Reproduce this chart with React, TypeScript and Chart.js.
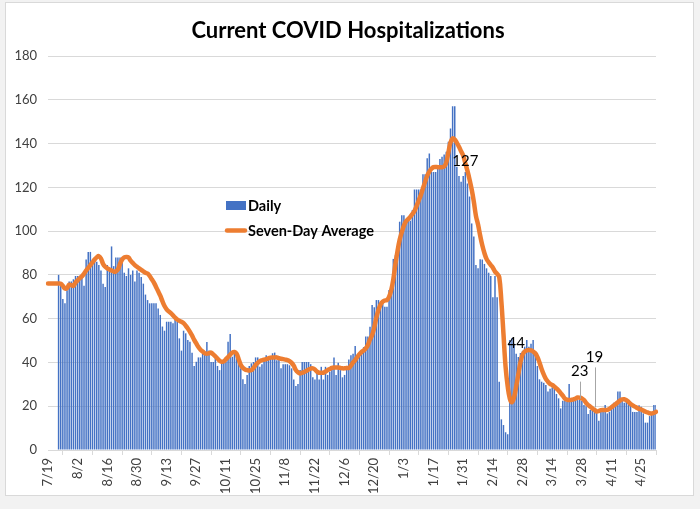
import React, { useEffect, useRef } from "react";
import { Chart, registerables } from "chart.js";

Chart.register(...registerables);

// ---- DATA ----
const startYear = 2020;
const startMonth = 7; // July
const startDay = 19;
const tickEvery = 14;

// Daily hospitalizations (one value per day from 7/19)
const daily: (number | null)[] = [
  null, null, null, null, null, 80, 75, 69, 67, 73,
  77, 77, 78, 79.5, 79.5, 79, 80, 75, 87, 90.5,
  90.5, 87, 88, 86, 84.5, 82, 76, 74.5, 84.5, 82,
  93, 84, 88, 88, 88, 87, 81, 79.5, 83, 80,
  82, 77, 82, 81, 79, 76, 71, 68.5, 67, 67,
  67, 67, 64.7, 61.7, 56.4, 54.5, 58.6, 58.6, 58.6, 57.9,
  61.2, 58.6, 51, 45.4, 54.5, 53.3, 50.2, 49.5, 44.4, 38.4,
  40.3, 42.3, 42.3, 44.2, 43.5, 49.3, 45.4, 40.2, 40.2, 42.9,
  38.4, 36.5, 39.6, 40.2, 40.2, 49.5, 53, 42.6, 44.4, 44.4,
  40.3, 37.3, 32.3, 30.1, 34.3, 38.4, 39.6, 40.2, 42.3, 42.3,
  38, 39.2, 41, 43.3, 41.9, 42.3, 44.2, 44.5, 41, 41.9,
  37.3, 39.2, 39.2, 39.2, 38.7, 37.3, 32.2, 29.2, 30.1, 36.5,
  40.2, 40.2, 40.2, 40.2, 39.2, 33.2, 32.2, 36.5, 32.2, 38,
  32.2, 38, 34.3, 35.8, 36.5, 42.3, 34.3, 39.9, 36.5, 33.2,
  34.3, 38.4, 41.4, 43.3, 44, 47.5, 43.4, 44, 45.7, 47,
  51.8, 51.8, 56.3, 66.2, 65.2, 68.5, 68.5, 67, 68.2, 65.5,
  65.5, 73.1, 73.1, 87.3, 89, 92.8, 104.3, 107.3, 107.3, 105.5,
  105.5, 104.7, 109.6, 119, 119, 119, 119, 126, 126, 133.3,
  135.5, 127, 127, 127, 130, 133, 134, 135, 136.3, 140.8,
  146.9, 157, 157, 129.4, 125.2, 122.6, 125.2, 127, 121.8, 115.8,
  103.5, 97.5, 84.5, 83, 87.1, 87, 85, 83, 81, 79.5,
  69.8, 79.5, 69.8, 31.2, 14, 11.4, 8.1, 7.2, 50.2, 51,
  48.5, 44, 42.5, 44.3, 45.3, 47.2, 50.2, 47.2, 48.5, 50.2,
  44.2, 38.4, 32.3, 31.2, 30.7, 29.7, 26.7, 28, 28.6, 28.2,
  25.6, 23.6, 19, 22.5, 22.8, 22, 30.2, 22.5, 23.6, 23.6,
  22.8, 23, 22.5, 20.6, 20, 16.4, 18.3, 18.5, 19, 18.5,
  13.4, 17.4, 17.4, 20.6, 16.7, 17.4, 20.6, 21.6, 22.1, 26.7,
  26.7, 22.5, 21.6, 23, 22.5, 22.1, 17.4, 17.4, 17.4, 20.5,
  19.8, 16.7, 12.5, 12.5, 15.5, 16.7, 20.6, 20.6,
];

// Seven-day average
const sevenDayAvg: number[] = [
  76.1, 76.1, 76.1, 76.1, 76.1, 76.1, 76, 75, 73.8, 74,
  75.5, 75.3, 75, 76.5, 77.5, 78.5, 79.3, 80.5, 82, 83.2,
  84.5, 85.7, 87, 88, 88.6, 87.5, 85, 83.7, 83, 82.5,
  82, 81.5, 81.6, 82.5, 85, 87, 88, 88.2, 88, 86.5,
  85.5, 84.5, 83.7, 83, 82.3, 81.6, 81, 80.6, 79.5, 78,
  76.5, 74.5, 72.5, 70.5, 68, 65.8, 64.3, 63.3, 62.5, 61.5,
  60.5, 59.6, 59, 58.6, 58, 56.8, 55.5, 54, 52.3, 50.3,
  48.7, 47, 45.8, 45, 44.2, 44, 44.2, 44.5, 43.7, 42.8,
  41.8, 40.8, 40.3, 40.5, 41.5, 42.5, 43.5, 44.5, 44.8, 44,
  41.5, 38.8, 37.5, 36.8, 36.5, 36.3, 36.5, 37.5, 38.8, 39.8,
  40.6, 41, 41.3, 41.5, 41.9, 42.2, 42.3, 42.3, 42.3, 42,
  41.7, 41.5, 41.3, 41.1, 40.6, 39.8, 38.5, 36.5, 35.5, 35,
  35.3, 35.6, 36.2, 36.8, 37.2, 37.3, 36.8, 35.8, 35.3, 35.3,
  35.3, 35.8, 36.5, 37, 37.5, 37.7, 37.7, 37.7, 37.5, 37.3,
  37.3, 37.5, 37.5, 38.5, 40, 41.1, 42.5, 43.8, 44.8, 45.5,
  46.4, 48, 50.5, 52.5, 56, 60.5, 64, 66.5, 67.8, 68.3,
  68.5, 70, 73, 78, 85, 91, 96, 99.5, 102.5, 104.5,
  105.5, 106.5, 107.8, 109.2, 111.5, 114, 116.5, 119.5, 122.5, 125.3,
  127.2, 128.5, 129.2, 129.3, 129.2, 129.2, 129.2, 129.5, 131.3, 136,
  140.5, 142.4, 141.8, 140.3, 138.5, 136.5, 134.5, 131, 127.5, 123.5,
  119, 113.5, 107, 103, 98, 93.5, 90, 87.3, 85.8, 84.5,
  83.3, 81.5, 80.5, 79, 68, 53, 38, 29, 23.5, 21.8,
  24, 29, 34.5, 40, 43.5, 45, 45.5, 45.7, 45.5, 45,
  44.2, 42.5, 40, 37, 34.5, 32.5, 31.2, 30.2, 29.7, 29,
  28.2, 27.2, 26, 24.8, 23.5, 23, 22.8, 22.9, 23.1, 23.5,
  24, 23.9, 23.6, 22.8, 21.5, 20.5, 19.8, 19, 18.3, 17.6,
  17.8, 18.2, 18.3, 18.3, 18.3, 18.8, 19.5, 20.3, 21, 21.8,
  22.6, 23.1, 23.2, 22.8, 22, 21, 20.4, 19.8, 19.3, 18.8,
  18.5, 18, 17.5, 17.2, 16.8, 16.7, 17, 17.4,
];

// Labelled daily values
const labelIndices = [197, 221, 251, 258];
const labelTexts = ["127", "44", "23", "19"];

// Categories: one per day
const categories: string[] = [];
for (let i = 0; i < daily.length; i++) {
  const d = new Date(startYear, startMonth - 1, startDay + i);
  categories.push(`${d.getMonth() + 1}/${d.getDate()}`);
}

// ---- STYLE ----
const FONT = "Lato";
const BLUE = "#4472C4";
const ORANGE = "#ED7D31";
const GRID = "#d9d9d9";
const TEXT = "#404040";
const labelLift = [11, 11, 28, 51];

const decorPlugin = {
  id: "decor",
  afterDatasetsDraw(chart: any) {
    const ctx = chart.ctx as CanvasRenderingContext2D;
    const xs = chart.scales.x;
    const ys = chart.scales.y;
    ctx.save();
    // data labels
    ctx.font = `15px ${FONT}`;
    ctx.textAlign = "center";
    ctx.textBaseline = "middle";
    labelIndices.forEach((idx, k) => {
      const v = daily[idx] as number;
      const px = xs.getPixelForValue(idx);
      const py = ys.getPixelForValue(v);
      const ty = py - labelLift[k];
      if (labelLift[k] > 20) {
        ctx.strokeStyle = "#a6a6a6";
        ctx.lineWidth = 1;
        ctx.beginPath();
        ctx.moveTo(Math.round(px) + 0.5, ty + 10);
        ctx.lineTo(Math.round(px) + 0.5, py - 1);
        ctx.stroke();
      }
      ctx.fillStyle = "#000";
      ctx.fillText(labelTexts[k], px, ty);
    });

    // legend
    ctx.textAlign = "left";
    ctx.font = `bold 14.5px ${FONT}`;
    ctx.fillStyle = BLUE;
    ctx.fillRect(226, 201, 20, 9);
    ctx.fillStyle = "#000";
    ctx.fillText("Daily", 248, 206);
    ctx.strokeStyle = ORANGE;
    ctx.lineWidth = 4.5;
    ctx.lineCap = "round";
    ctx.beginPath();
    ctx.moveTo(227, 230.5);
    ctx.lineTo(245, 230.5);
    ctx.stroke();
    ctx.fillText("Seven-Day Average", 248, 231);

    // title
    ctx.textAlign = "center";
    ctx.font = `bold 22px ${FONT}`;
    ctx.fillText("Current COVID Hospitalizations", 348, 31);
    ctx.restore();
  },
};

export default function App() {
  const ref = useRef<HTMLCanvasElement | null>(null);

  useEffect(() => {
    if (!ref.current) return;
    Chart.defaults.font.family = FONT;
    const chart = new Chart(ref.current, {
      type: "bar",
      data: {
        labels: categories,
        datasets: [
          {
            type: "line",
            label: "Seven-Day Average",
            data: sevenDayAvg,
            borderColor: ORANGE,
            backgroundColor: ORANGE,
            borderWidth: 4.5,
            pointRadius: 0,
            tension: 0.4,
            borderCapStyle: "round",
            borderJoinStyle: "round",
            order: 0,
          } as any,
          {
            type: "bar",
            label: "Daily",
            data: daily,
            backgroundColor: BLUE,
            categoryPercentage: 1,
            barPercentage: 0.7,
            order: 1,
          } as any,
        ],
      },
      options: {
        responsive: false,
        animation: false,
        devicePixelRatio: 1,
        layout: { padding: { top: 56, right: 44, left: 0, bottom: 0 } },
        plugins: {
          legend: { display: false },
          tooltip: { enabled: false },
          title: { display: false },
        },
        scales: {
          x: {
            type: "category",
            offset: false,
            grid: {
              display: true,
              drawOnChartArea: false,
              drawTicks: true,
              tickLength: 5,
              color: GRID,
            },
            border: { display: true, color: GRID },
            ticks: {
              autoSkip: false,
              maxRotation: 90,
              minRotation: 90,
              padding: 3,
              color: TEXT,
              font: { family: FONT, size: 13 },
              callback: (_v: any, i: number) =>
                i % tickEvery === 0 ? categories[i] : null,
            },
            afterFit: (s: any) => {
              s.height = 59;
            },
          },
          y: {
            min: 0,
            max: 180,
            ticks: {
              stepSize: 20,
              padding: 11,
              color: TEXT,
              font: { family: FONT, size: 13 },
            },
            grid: { color: GRID, drawTicks: false },
            border: { display: false },
            afterFit: (s: any) => {
              s.width = 48;
            },
          },
        },
      } as any,
      plugins: [decorPlugin],
    });
    return () => chart.destroy();
  }, []);

  return (
    <div
      style={{
        position: "fixed",
        left: 0,
        top: 0,
        width: 700,
        height: 509,
        background: "#f2f2f2",
        overflow: "hidden",
      }}
    >
      <div
        style={{
          position: "absolute",
          left: 5,
          top: 2,
          width: 689,
          height: 494,
          background: "#ffffff",
          border: "1px solid #d9d9d9",
          boxSizing: "border-box",
        }}
      />
      <canvas
        ref={ref}
        width={700}
        height={509}
        style={{ position: "absolute", left: 0, top: 0, width: 700, height: 509 }}
      />
    </div>
  );
}
